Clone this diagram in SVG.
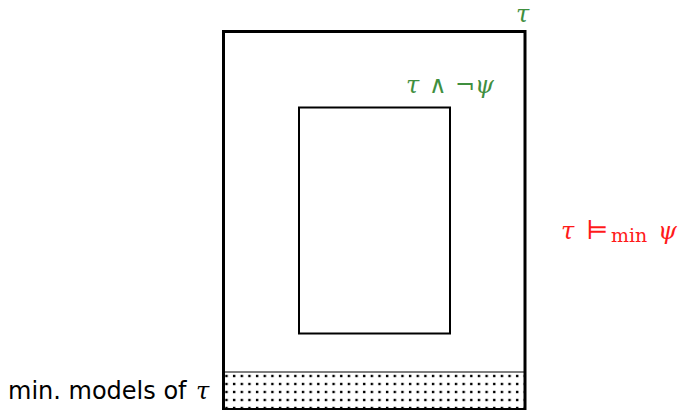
<svg xmlns="http://www.w3.org/2000/svg" width="682" height="410" viewBox="0 0 682 410">
<style>
.math{font-family:"DejaVu Serif","Liberation Serif",serif;font-style:italic}
.rm{font-family:"DejaVu Serif","Liberation Serif",serif;font-style:normal}
.green{fill:#3f8f3f}
.red{fill:#ff1a1a}
.label{font-family:"DejaVu Sans","Liberation Sans",sans-serif;font-size:24px;fill:#000}
</style>
<defs>
<pattern id="dots" x="222.5" y="372" width="7.65" height="8" patternUnits="userSpaceOnUse">
<rect x="2.8" y="2.8" width="2.4" height="2.4" fill="#000"/>
</pattern>
</defs>
<rect width="682" height="410" fill="#fff"/>
<g id="min-models">
<rect x="223.5" y="372" width="301.5" height="36" fill="url(#dots)"/>
<line x1="223.5" y1="372" x2="525" y2="372" stroke="#000" stroke-width="1"/>
<text class="label" x="8" y="399">min. models of</text>
<text class="math" x="196" y="399" font-size="24">τ</text>
</g>
<g id="tau">
<rect x="223.5" y="31.5" width="301.5" height="378" fill="none" stroke="#000" stroke-width="3"/>
<text class="math green" x="516" y="22" font-size="24">τ</text>
</g>
<g id="tau-not-psi">
<rect x="299" y="107.5" width="151" height="226" fill="none" stroke="#000" stroke-width="2"/>
<text class="green" font-size="24" y="93"><tspan class="math" x="406">τ</tspan><tspan class="rm" x="429">∧</tspan><tspan class="rm" x="455">¬</tspan><tspan class="math" x="475">ψ</tspan></text>
</g>
<g id="entails">
<text class="red" y="239" font-size="24"><tspan class="math" x="561">τ</tspan><tspan class="rm" x="586" font-size="26">⊨</tspan><tspan class="rm" font-size="19" x="611" y="242">min</tspan><tspan class="math" x="658" y="239">ψ</tspan></text>
</g>
</svg>
